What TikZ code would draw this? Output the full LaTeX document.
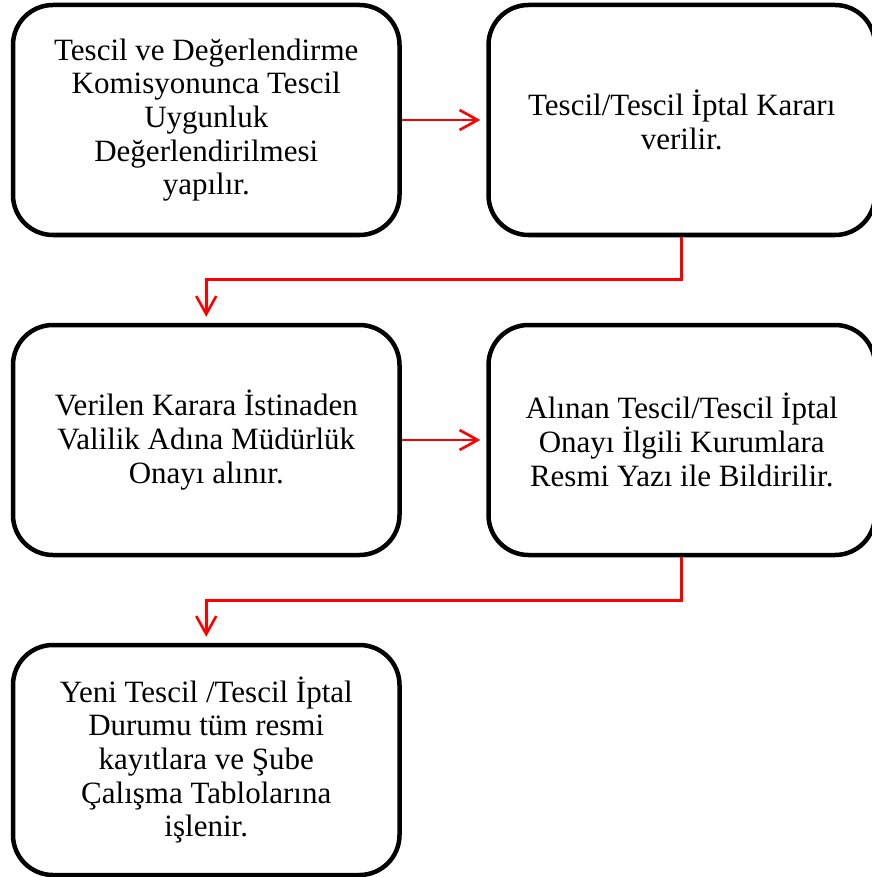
\documentclass[tikz,border=0pt]{standalone}
\usepackage{fontspec}
\setmainfont{Liberation Serif}
\usetikzlibrary{arrows.meta}
\begin{document}
\begin{tikzpicture}[x=1pt,y=-1pt,
  stagebox/.style={draw=black, line width=4.5pt, rounded corners=40pt,
    minimum width=386.5pt, minimum height=230pt, inner sep=0pt,
    align=center, font=\fontsize{31}{33.7}\selectfont},
  conn/.style={draw=red, line width=2.6pt,
    -{Straight Barb[length=18pt,width=20pt,line width=2.6pt]}, shorten >=6pt}]
\useasboundingbox (0,0) rectangle (871,877);

% process steps
\node[stagebox] (b1) at (206.25,120) {Tescil ve Değerlendirme\\Komisyonunca Tescil\\Uygunluk\\Değerlendirilmesi\\yapılır.};
\node[stagebox] (b2) at (681.75,120) {Tescil/Tescil İptal Kararı\\verilir.};
\node[stagebox] (b3) at (206.25,440) {Verilen Karara İstinaden\\Valilik Adına Müdürlük\\Onayı alınır.};
\node[stagebox] (b4) at (681.75,440) {Alınan Tescil/Tescil İptal\\Onayı İlgili Kurumlara\\Resmi Yazı ile Bildirilir.};
\node[stagebox] (b5) at (206.25,760) {Yeni Tescil /Tescil İptal\\Durumu tüm resmi\\kayıtlara ve Şube\\Çalışma Tablolarına\\işlenir.};

% levels of the elbow connectors
\coordinate (m1) at (0,279.5);
\coordinate (m2) at (0,600.5);

% connectors
\draw[conn] (b1.east) -- (b2.west);
\draw[conn] (b2.south) -- (b2.south |- m1) -| (b3.north);
\draw[conn] (b3.east) -- (b4.west);
\draw[conn] (b4.south) -- (b4.south |- m2) -| (b5.north);
\end{tikzpicture}
\end{document}
